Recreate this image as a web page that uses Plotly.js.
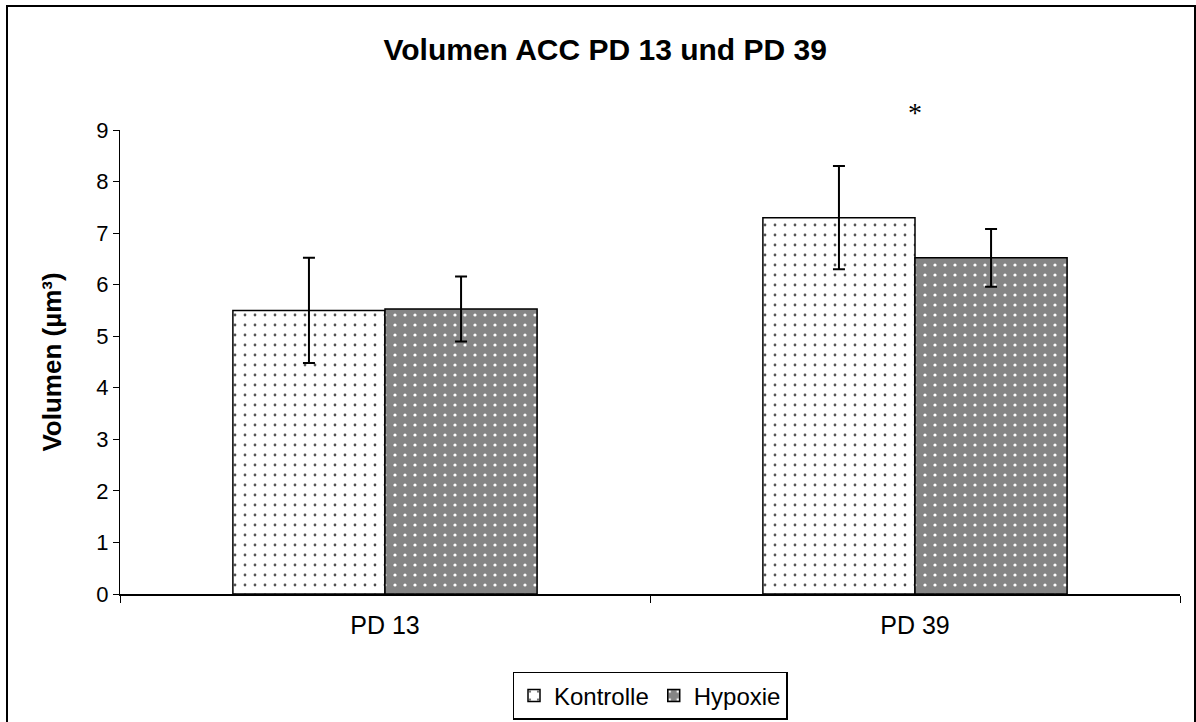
<!DOCTYPE html>
<html>
<head>
<meta charset="utf-8">
<script src="https://cdn.plot.ly/plotly-3.0.1.min.js"></script>
<style>
  html, body { margin: 0; padding: 0; background: #fff; }
  #frame { position: absolute; left: 6px; top: 5px; width: 1186px; height: 740px; border: 2px solid #000; pointer-events: none; z-index: 10; }
  #chart { width: 1196px; height: 722px; }
</style>
</head>
<body>
<div id="chart"></div>
<div id="frame"></div>
<script>
const categories = ["PD 13", "PD 39"];
const kontrolle = [5.50, 7.30];
const kontrolleErr = [1.02, 1.00];
const hypoxie = [5.53, 6.52];
const hypoxieErr = [0.63, 0.56];
const yTicks = [0, 1, 2, 3, 4, 5, 6, 7, 8, 9];
const sigLabel = "*";
const sigCategory = "PD 39";

const font = "Arial, 'Liberation Sans', sans-serif";

const traces = [
  {
    type: "bar", name: "Kontrolle", x: categories, y: kontrolle,
    error_y: { type: "data", array: kontrolleErr, visible: true, color: "#000", thickness: 2, width: 6 },
    marker: {
      color: "#ffffff",
      line: { color: "#000", width: 1.5 },
      pattern: { shape: ".", fgcolor: "#555", bgcolor: "#ffffff", size: 10, solidity: 0.06 }
    }
  },
  {
    type: "bar", name: "Hypoxie", x: categories, y: hypoxie,
    error_y: { type: "data", array: hypoxieErr, visible: true, color: "#000", thickness: 2, width: 6 },
    marker: {
      color: "#858585",
      line: { color: "#000", width: 1.5 },
      pattern: { shape: ".", fgcolor: "#ffffff", bgcolor: "#858585", size: 10, solidity: 0.08 }
    }
  }
];

const layout = {
  width: 1196, height: 722,
  paper_bgcolor: "#fff", plot_bgcolor: "#fff",
  margin: { l: 120, r: 16, t: 130, b: 128, autoexpand: false },
  barmode: "group", bargap: 0.426, bargroupgap: 0,
  font: { family: font, size: 22, color: "#000" },
  title: { text: "<b>Volumen ACC PD 13 und PD 39</b>", x: 0.506, xanchor: "center", y: 0.931, yanchor: "middle", font: { family: font, size: 30, color: "#000" } },
  xaxis: {
    type: "category", showline: true, linecolor: "#000", linewidth: 2,
    ticks: "outside", tickson: "boundaries", ticklen: 7, tickcolor: "#000", tickwidth: 1,
    ticklabelstandoff: 8,
    tickfont: { family: font, size: 25 }, showgrid: false, zeroline: false
  },
  yaxis: {
    range: [0, 9], tickvals: yTicks, showline: true, linecolor: "#000", linewidth: 1,
    ticks: "outside", ticklen: 6, tickcolor: "#000", tickwidth: 1, showgrid: false, zeroline: false,
    tickfont: { family: font, size: 22 },
    title: { text: "<b>Volumen (µm³)</b>", font: { family: font, size: 26 }, standoff: 27 }
  },
  showlegend: true,
  legend: {
    orientation: "h", x: 0.5, xanchor: "center", y: -0.168, yanchor: "top",
    bordercolor: "#000", borderwidth: 1.5, font: { family: font, size: 24 },
    itemwidth: 30, traceorder: "normal"
  },
  annotations: [
    { x: sigCategory, y: 1.075, xref: "x", yref: "paper", text: sigLabel, showarrow: false,
      font: { family: "'Liberation Serif', 'Times New Roman', serif", size: 28, color: "#000" } }
  ]
};

Plotly.newPlot("chart", traces, layout, { displayModeBar: false, staticPlot: true });
</script>
</body>
</html>
